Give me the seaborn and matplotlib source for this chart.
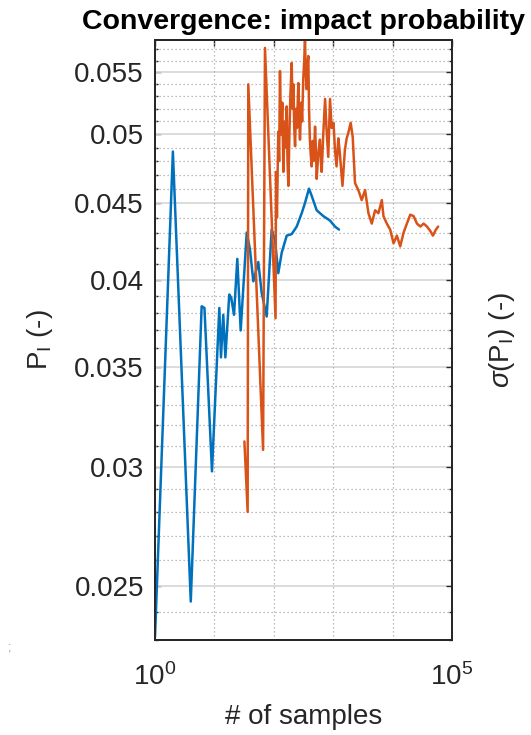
import numpy as np
import pandas as pd
import matplotlib
matplotlib.use("Agg")
import matplotlib.pyplot as plt
import matplotlib.ticker as mticker
import seaborn as sns

# ---- data ----
blue_n = [1, 2, 4, 6.1, 6.8, 9.1, 12.1, 12.9, 14.1, 15.3, 17.8, 19.2, 21.4, 24.3, 27.7,
          35, 39.7, 45.2, 54.8, 62.5, 75.9, 92, 105, 119, 136, 165, 200, 243, 295, 335,
          391, 434, 527, 683, 884, 1072, 1252]
blue_p = [0.0231, 0.0487, 0.0244, 0.0384, 0.0383, 0.0298, 0.0383, 0.0355, 0.0379, 0.0355,
          0.0391, 0.0389, 0.0379, 0.0413, 0.0370, 0.0430, 0.0419, 0.0399, 0.0411, 0.0392,
          0.0378, 0.0432, 0.0425, 0.0404, 0.0417, 0.0428, 0.0429, 0.0434, 0.0443, 0.0450,
          0.0460, 0.0455, 0.0445, 0.0441, 0.0438, 0.0434, 0.0432]

orange_n = [32, 36.3, 37.2, 66, 71, 107, 109, 113, 119, 123, 127, 133, 139, 145, 152, 159,
            165, 170, 176, 183, 190, 200, 207, 214, 221, 228, 236, 245, 259, 266, 276, 290,
            300, 313, 325, 335, 345, 356, 368, 381, 392, 405, 418, 434, 450, 470, 495, 510,
            527, 560, 598, 620, 640, 680, 730, 770, 826, 884, 942, 1012, 1072, 1139, 1220,
            1292, 1433, 1571, 1686, 1794, 1970, 2130, 2330, 2650, 3020, 3440, 3920, 4460,
            5080, 5780, 6580, 7020, 7990, 9100, 10370, 11800, 13440, 15300, 17400, 19840,
            22600, 25700, 29300, 33300, 37900, 43200, 47700, 53600, 58400]
orange_p = [0.0312, 0.0280, 0.0540, 0.0308, 0.0571, 0.0377, 0.0472, 0.0440, 0.0502, 0.0480,
            0.0551, 0.0500, 0.0525, 0.0472, 0.0510, 0.0490, 0.0522, 0.0480, 0.0462, 0.0500,
            0.0530, 0.0558, 0.0520, 0.0540, 0.0505, 0.0491, 0.0520, 0.0505, 0.0541, 0.0515,
            0.0496, 0.0525, 0.0510, 0.0544, 0.0560, 0.0579, 0.0550, 0.0536, 0.0555, 0.0564,
            0.0520, 0.0496, 0.0485, 0.0476, 0.0495, 0.0480, 0.0506, 0.0490, 0.0467, 0.0485,
            0.0496, 0.0480, 0.0472, 0.0500, 0.0528, 0.0505, 0.0483, 0.0528, 0.0505, 0.0509,
            0.0488, 0.0476, 0.0497, 0.0486, 0.0462, 0.0488, 0.0497, 0.0501, 0.0509, 0.0498,
            0.0464, 0.0459, 0.0452, 0.0459, 0.0443, 0.0436, 0.0445, 0.0443, 0.0452, 0.0441,
            0.0436, 0.0432, 0.0423, 0.0428, 0.0421, 0.0430, 0.0436, 0.0442, 0.0441, 0.0436,
            0.0434, 0.0436, 0.0434, 0.0431, 0.0428, 0.0432, 0.0434]

y_ticks = [0.025, 0.03, 0.035, 0.04, 0.045, 0.05, 0.055]
y_tick_labels = ["0.025", "0.03", "0.035", "0.04", "0.045", "0.05", "0.055"]
x_ticks = [1e0, 1e1, 1e2, 1e3, 1e4, 1e5]
x_tick_labels = [r"$10^{0}$", "", "", "", "", r"$10^{5}$"]

title = "Convergence: impact probability"
xlabel = "# of samples"
ylabel_left = r"P$_\mathregular{I}$ (-)"
ylabel_right = r"$\sigma$(P$_\mathregular{I}$) (-)"

# ---- style ----
sns.set_theme(style="white")
plt.rcParams["font.family"] = ["Liberation Sans", "DejaVu Sans"]
plt.rcParams["mathtext.fontset"] = "custom"
plt.rcParams["mathtext.rm"] = "Liberation Sans"
plt.rcParams["mathtext.it"] = "Liberation Sans:italic"
plt.rcParams["mathtext.bf"] = "Liberation Sans:bold"

TXT = "#262626"
BLUE = "#0072BD"
ORANGE = "#D95319"

fig = plt.figure(figsize=(5.31, 7.35), dpi=100)
ax = fig.add_axes([155 / 531, 1 - 640 / 735, 297 / 531, 600 / 735])

df_b = pd.DataFrame({"n": blue_n, "p": blue_p})
df_o = pd.DataFrame({"n": orange_n, "p": orange_p})
sns.lineplot(data=df_b, x="n", y="p", ax=ax, color=BLUE, lw=1.8, estimator=None, zorder=3)
sns.lineplot(data=df_o, x="n", y="p", ax=ax, color=ORANGE, lw=1.8, estimator=None, zorder=3)

ylim = (0.0230, 0.0578)
ax.set_xscale("log")
ax.set_yscale("log")
ax.set_xlim(1, 1e5)
ax.set_ylim(*ylim)

ax.xaxis.set_major_locator(mticker.FixedLocator(x_ticks))
ax.xaxis.set_major_formatter(mticker.FixedFormatter(x_tick_labels))
ax.xaxis.set_minor_locator(mticker.NullLocator())
ax.yaxis.set_major_locator(mticker.FixedLocator(y_ticks))
ax.yaxis.set_major_formatter(mticker.FixedFormatter(y_tick_labels))
minor_y = [v / 1000 for v in range(23, 58) if v % 5 != 0]
ax.yaxis.set_minor_locator(mticker.FixedLocator(minor_y))
ax.yaxis.set_minor_formatter(mticker.NullFormatter())

# grid
ax.grid(False)
for v in y_ticks:
    ax.axhline(v, color="#d9d9d9", lw=1.3, zorder=1)
for v in minor_y:
    ax.axhline(v, color="#a8a8a8", lw=0.9, ls=(0, (1, 2.2)), zorder=1)
for v in x_ticks[1:-1]:
    ax.axvline(v, color="#a8a8a8", lw=0.9, ls=(0, (1, 2.2)), zorder=1)

ax.tick_params(axis="both", which="both", direction="in", colors=TXT, width=1.0)
ax.tick_params(axis="x", which="major", length=4.3, top=True, labelsize=20, pad=17)
ax.tick_params(axis="y", which="major", length=4.3, left=True, right=False, labelsize=20, pad=8)
ax.tick_params(axis="y", which="minor", length=2.2, left=True, right=False)
for s in ax.spines.values():
    s.set_color(TXT)
    s.set_linewidth(1.3)

ax.set_xlabel(xlabel, fontsize=20, color=TXT, labelpad=9)
ax.set_ylabel(ylabel_left, fontsize=20, color=TXT, labelpad=14)
ax.set_title(title, fontsize=20.5, fontweight="bold", color="black", pad=8)

# right axis (sigma), no tick labels
ax2 = ax.twinx()
ax2.set_yscale("log")
ax2.set_ylim(*ylim)
ax2.yaxis.set_major_locator(mticker.FixedLocator(y_ticks))
ax2.yaxis.set_major_formatter(mticker.NullFormatter())
ax2.yaxis.set_minor_locator(mticker.FixedLocator(minor_y))
ax2.yaxis.set_minor_formatter(mticker.NullFormatter())
ax2.tick_params(axis="y", which="major", direction="in", length=4.3, colors=TXT, width=1.0)
ax2.tick_params(axis="y", which="minor", direction="in", length=2.2, colors=TXT, width=1.0)
ax2.grid(False)
for s in ax2.spines.values():
    s.set_color(TXT)
    s.set_linewidth(1.3)
ax2.set_ylabel(ylabel_right, fontsize=20, color=TXT, labelpad=22)

fig.text(10 / 531, 1 - 648 / 735, ";", fontsize=9, color="#999999", ha="center", va="center")

fig.savefig("out.png", dpi=100)
